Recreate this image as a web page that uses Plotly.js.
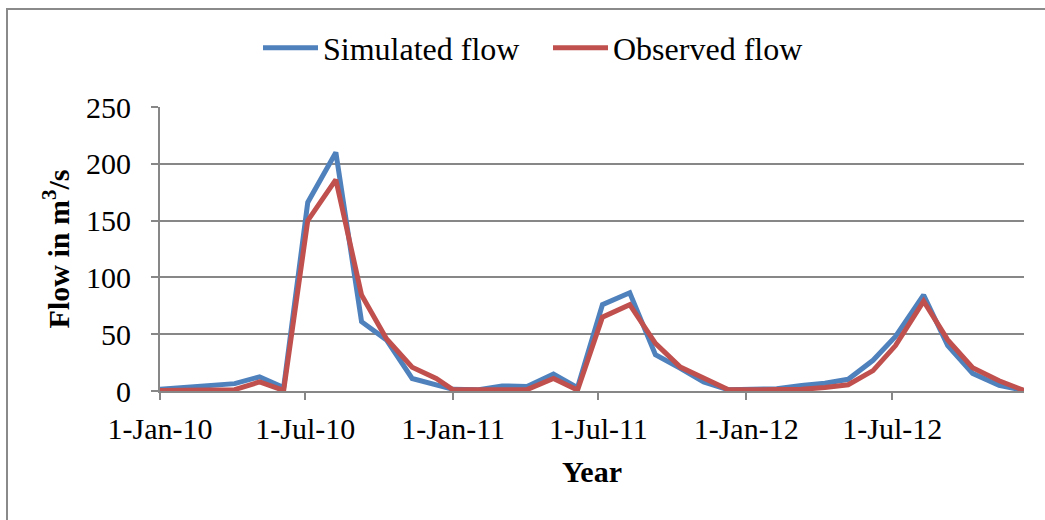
<!DOCTYPE html>
<html>
<head>
<meta charset="utf-8">
<script src="https://cdn.plot.ly/plotly-3.0.1.min.js"></script>
<style>
html,body{margin:0;padding:0;background:#fff;}
#chart{width:1045px;height:520px;}
</style>
</head>
<body>
<div id="chart"></div>
<script>
// Sampling dates
var dates = [
  '2010-01-01','2010-02-01','2010-03-03','2010-04-04','2010-05-05','2010-06-04',
  '2010-07-04','2010-08-08','2010-09-09','2010-10-10','2010-11-11','2010-12-11',
  '2011-01-01','2011-01-31','2011-03-03','2011-04-03','2011-05-06','2011-06-05',
  '2011-07-06','2011-08-09','2011-09-10','2011-10-11','2011-11-09','2011-12-10',
  '2012-01-10','2012-02-08','2012-03-10','2012-04-08','2012-05-07','2012-06-07',
  '2012-07-05','2012-08-09','2012-09-08','2012-10-09','2012-11-11','2012-12-12'
];
// Simulated flow (m3/s)
var simulated = [
  1.5, 3, 4.5, 6.5, 12.5, 3, 166, 210, 61, 45, 11, 5,
  1.5, 1, 4.5, 4, 15, 3, 76, 86.5, 32, 20, 8, 1,
  1.5, 2, 4.8, 6.8, 10.3, 27, 48, 84.5, 40, 15.5, 5, 0.5
];
// Observed flow (m3/s)
var observed = [
  0.5, 0.7, 0.9, 1.2, 8, 0.5, 150, 186, 84.5, 46, 21, 11,
  1, 0.8, 1.2, 1.2, 11, 0.8, 65, 76, 42, 21, 11.5, 1,
  1, 1, 1.5, 3, 5.5, 18, 40, 79, 45, 20.5, 9, 0.5
];
var seriesNames = ['Simulated flow', 'Observed flow'];
var tickDates = ['2010-01-01','2010-07-01','2011-01-01','2011-07-01','2012-01-01','2012-07-01'];
var tickLabels = ['1-Jan-10','1-Jul-10','1-Jan-11','1-Jul-11','1-Jan-12','1-Jul-12'];

var serif = 'Liberation Serif';
var grey = '#878787';

var traces = [
  {x: dates, y: simulated, name: seriesNames[0], type: 'scatter', mode: 'lines',
   line: {color: '#4F81BD', width: 5}},
  {x: dates, y: observed, name: seriesNames[1], type: 'scatter', mode: 'lines',
   line: {color: '#C0504D', width: 5}}
];

var L = 160, R = 1024, T = 107, B = 391;
var pw = R - L, ph = B - T;
function px(x){ return (x - L) / pw; }
function py(y){ return (B - y) / ph; }

var layout = {
  width: 1045, height: 520,
  margin: {l: L, r: 1045 - R, t: T, b: 520 - B, pad: 0},
  paper_bgcolor: '#fff', plot_bgcolor: '#fff',
  font: {family: serif, color: '#000', size: 30},
  showlegend: true,
  legend: {orientation: 'h', x: px(258), xanchor: 'left', y: py(48), yanchor: 'middle',
           font: {family: serif, size: 32, color: '#000'}, entrywidth: 220, itemwidth: 55,
           bgcolor: 'rgba(0,0,0,0)'},
  xaxis: {
    type: 'date', range: ['2010-01-01', '2012-12-12'],
    tickmode: 'array', tickvals: tickDates, ticktext: tickLabels,
    showgrid: false, zeroline: false,
    showline: true, linecolor: grey, linewidth: 2,
    ticks: 'outside', ticklen: 7, tickwidth: 2, tickcolor: grey,
    ticklabelstandoff: 3,
    tickfont: {family: serif, size: 30, color: '#000'},
    title: {text: '<b>Year</b>', font: {family: serif, size: 30, color: '#000'}, standoff: 17}
  },
  yaxis: {
    range: [0, 250], dtick: 50, tick0: 0,
    showgrid: true, gridcolor: grey, gridwidth: 2,
    zeroline: false,
    showline: true, linecolor: grey, linewidth: 2,
    ticks: 'outside', ticklen: 7, tickwidth: 2, tickcolor: grey,
    ticklabelstandoff: 14,
    tickfont: {family: serif, size: 30, color: '#000'},
    title: {text: '<b>Flow in m<sup>3</sup>/s</b>', font: {family: serif, size: 30, color: '#000'}, standoff: 8}
  },
  shapes: [
    {type: 'rect', xref: 'paper', yref: 'paper',
     x0: px(7), x1: px(1060), y0: py(9), y1: py(540),
     line: {color: '#8a8a8a', width: 2}, fillcolor: 'rgba(0,0,0,0)', layer: 'below'}
  ]
};

Plotly.newPlot('chart', traces, layout, {displayModeBar: false, staticPlot: true});
</script>
</body>
</html>
